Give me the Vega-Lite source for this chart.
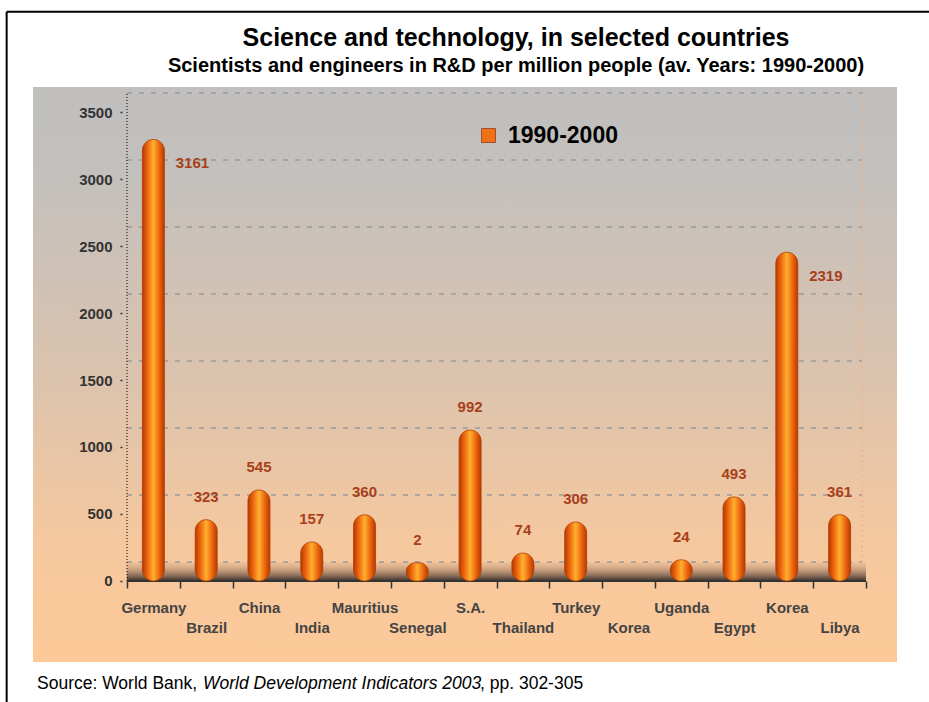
{
  "$schema": "https://vega.github.io/schema/vega-lite/v6.json",
  "width": 864,
  "height": 575,
  "autosize": {"type": "none"},
  "padding": {"left": 33, "top": 87, "right": 32, "bottom": 40},
  "background": "white",
  "title": {
    "text": "Science and technology, in selected countries",
    "subtitle": "Scientists and engineers in R&D per million people (av. Years: 1990-2000)",
    "anchor": "middle",
    "frame": "group",
    "dx": 51,
    "offset": -65,
    "font": "Liberation Sans",
    "fontSize": 25,
    "fontWeight": "bold",
    "color": "#000000",
    "subtitleFont": "Liberation Sans",
    "subtitleFontSize": 20,
    "subtitleFontWeight": "bold",
    "subtitleColor": "#000000",
    "subtitlePadding": 5
  },
  "data": {
    "values": [
      {"country": "Germany", "value": 3161, "series": "1990-2000"},
      {"country": "Brazil", "value": 323, "series": "1990-2000"},
      {"country": "China", "value": 545, "series": "1990-2000"},
      {"country": "India", "value": 157, "series": "1990-2000"},
      {"country": "Mauritius", "value": 360, "series": "1990-2000"},
      {"country": "Senegal", "value": 2, "series": "1990-2000"},
      {"country": "S.A.", "value": 992, "series": "1990-2000"},
      {"country": "Thailand", "value": 74, "series": "1990-2000"},
      {"country": "Turkey", "value": 306, "series": "1990-2000"},
      {"country": "Korea ", "value": null, "series": "1990-2000"},
      {"country": "Uganda", "value": 24, "series": "1990-2000"},
      {"country": "Egypt", "value": 493, "series": "1990-2000"},
      {"country": "Korea", "value": 2319, "series": "1990-2000"},
      {"country": "Libya", "value": 361, "series": "1990-2000"}
    ]
  },
  "layer": [
    {
      "data": {"values": [{"bg": 1}]},
      "mark": {
        "type": "rect",
        "color": {
          "gradient": "linear", "x1": 0, "x2": 0, "y1": 0, "y2": 1,
          "stops": [
            {"offset": 0, "color": "#c0bfbe"},
            {"offset": 0.15, "color": "#c3c0bd"},
            {"offset": 0.5, "color": "#dbc3ae"},
            {"offset": 0.8, "color": "#f6c89e"},
            {"offset": 1, "color": "#fdc998"}
          ]
        }
      },
      "encoding": {}
    },
    {
      "data": {"values": [{"f": 1}]},
      "mark": {
        "type": "rect",
        "color": {
          "gradient": "linear", "x1": 0, "x2": 0, "y1": 0, "y2": 1,
          "stops": [
            {"offset": 0, "color": "rgba(200,160,130,0.15)"},
            {"offset": 0.5, "color": "rgba(140,110,90,0.6)"},
            {"offset": 1, "color": "#3a302b"}
          ]
        }
      },
      "encoding": {
        "x": {"datum": "Germany", "bandPosition": 0, "type": "nominal"},
        "x2": {"datum": "Libya", "bandPosition": 1},
        "y": {"datum": 142, "type": "quantitative"},
        "y2": {"datum": 0}
      }
    },
    {
      "data": {"values": [{"g": 0}, {"g": 500}, {"g": 1000}, {"g": 1500}, {"g": 2000}, {"g": 2500}, {"g": 3000}, {"g": 3500}]},
      "mark": {"type": "rule", "color": "#9a9a9a", "strokeWidth": 1.5, "strokeDash": [5, 7], "yOffset": -19},
      "encoding": {
        "x": {"datum": "Germany", "bandPosition": 0, "type": "nominal"},
        "x2": {"datum": "Libya", "bandPosition": 0.93},
        "y": {"field": "g", "type": "quantitative"}
      }
    },
    {
      "data": {"values": [{"a": 1}]},
      "mark": {"type": "rule", "color": "#000000", "strokeWidth": 1, "strokeDash": [1, 2]},
      "encoding": {
        "x": {"datum": "Germany", "bandPosition": 0, "type": "nominal"},
        "y": {"datum": 0, "type": "quantitative"},
        "y2": {"datum": 3641}
      }
    },
    {
      "data": {"values": [{"a": 1}]},
      "mark": {"type": "rule", "color": "#f0b48a", "strokeWidth": 1.5, "strokeDash": [2, 3]},
      "encoding": {
        "x": {"datum": "Libya", "bandPosition": 0.93, "type": "nominal"},
        "y": {"datum": 142, "type": "quantitative"},
        "y2": {"datum": 3641}
      }
    },
    {
      "data": {"values": [{"a": 1}]},
      "mark": {"type": "rule", "color": "#333333", "strokeWidth": 2},
      "encoding": {
        "x": {"datum": "Germany", "bandPosition": 0, "type": "nominal"},
        "x2": {"datum": "Libya", "bandPosition": 1},
        "y": {"datum": 0, "type": "quantitative"}
      }
    },
    {
      "mark": {
        "type": "bar", "width": 22, "cornerRadius": 11, "yOffset": -18, "stroke": "#b03a00", "strokeWidth": 0.8,
        "fill": {
          "gradient": "linear", "x1": 0, "x2": 1, "y1": 0, "y2": 0,
          "stops": [
            {"offset": 0, "color": "#b83800"},
            {"offset": 0.25, "color": "#ee6a10"},
            {"offset": 0.5, "color": "#ffb030"},
            {"offset": 0.75, "color": "#ee6a10"},
            {"offset": 1, "color": "#b83800"}
          ]
        }
      },
      "encoding": {
        "x": {
          "field": "country",
          "type": "nominal",
          "sort": null,
          "scale": {
            "domain": ["Germany", "Brazil", "China", "India", "Mauritius", "Senegal", "S.A.", "Thailand", "Turkey", "Korea ", "Uganda", "Egypt", "Korea", "Libya"],
            "range": [94, 833],
            "paddingInner": 0,
            "paddingOuter": 0
          },
          "axis": {
            "orient": "bottom",
            "offset": -81,
            "zindex": 2,
            "title": null,
            "domain": false,
            "grid": false,
            "ticks": true,
            "tickBand": "extent",
            "tickSize": 7,
            "tickColor": "#333333",
            "tickWidth": 1.5,
            "labelAngle": 0,
            "labelAlign": "center",
            "labelFont": "Liberation Sans",
            "labelFontSize": 15,
            "labelFontWeight": "bold",
            "labelColor": "#444444",
            "labelBaseline": "top",
            "labelLineHeight": 20,
            "labelPadding": 12,
            "labelExpr": "indexof(['Brazil','India','Senegal','Thailand','Korea ','Egypt','Libya'], datum.value) >= 0 ? ['', trim(datum.label)] : trim(datum.label)"
          }
        },
        "y": {
          "field": "value",
          "type": "quantitative",
          "scale": {"domain": [-604.5, 3686.6], "nice": false, "zero": false},
          "axis": {
            "orient": "left",
            "offset": -94,
            "zindex": 2,
            "title": null,
            "domain": false,
            "grid": false,
            "format": "d",
            "values": [0, 500, 1000, 1500, 2000, 2500, 3000, 3500],
            "tickSize": 7,
            "tickColor": "#333333",
            "tickDash": [0, 5, 2],
            "tickWidth": 1.5,
            "labelFont": "Liberation Sans",
            "labelFontSize": 15,
            "labelFontWeight": "bold",
            "labelColor": "#333333",
            "labelPadding": 8
          }
        },
        "y2": {"datum": 0}
      }
    },
    {
      "mark": {"type": "point", "filled": true, "opacity": 0, "size": 0},
      "encoding": {
        "x": {"field": "country", "type": "nominal"},
        "y": {"datum": 0, "type": "quantitative"},
        "color": {
          "field": "series",
          "type": "nominal",
          "scale": {"range": ["#f07018"]},
          "legend": {
            "orient": "none",
            "legendX": 444,
            "legendY": 37,
            "title": null,
            "padding": 0,
            "symbolType": "square",
            "symbolSize": 196,
            "symbolOpacity": 1,
            "symbolStrokeColor": "#a05030",
            "symbolStrokeWidth": 1,
            "labelFont": "Liberation Sans",
            "labelFontSize": 23,
            "labelFontWeight": "bold",
            "labelColor": "#000000",
            "labelOffset": 8
          }
        }
      }
    },
    {
      "transform": [{"filter": "datum.value != null && datum.value < 2000"}],
      "mark": {"type": "text", "dy": -41, "font": "Liberation Sans", "fontSize": 15, "fontWeight": "bold", "color": "#a8401c", "baseline": "middle", "align": "center"},
      "encoding": {
        "x": {"field": "country", "type": "nominal"},
        "y": {"field": "value", "type": "quantitative"},
        "text": {"field": "value", "type": "quantitative"}
      }
    },
    {
      "transform": [{"filter": "datum.value != null && datum.value >= 2000"}],
      "mark": {"type": "text", "dx": 39, "dy": 6, "font": "Liberation Sans", "fontSize": 15, "fontWeight": "bold", "color": "#a8401c", "baseline": "middle", "align": "center"},
      "encoding": {
        "x": {"field": "country", "type": "nominal"},
        "y": {"field": "value", "type": "quantitative"},
        "text": {"field": "value", "type": "quantitative", "format": "d"}
      }
    },
    {
      "data": {"values": [{"a": 1}]},
      "mark": {"type": "text", "text": "Source: World Bank, ", "dx": -90, "align": "left", "baseline": "alphabetic", "font": "Liberation Sans", "fontSize": 17.5, "color": "#000000"},
      "encoding": {
        "x": {"datum": "Germany", "bandPosition": 0, "type": "nominal"},
        "y": {"datum": -806, "type": "quantitative"}
      }
    },
    {
      "data": {"values": [{"a": 1}]},
      "mark": {"type": "text", "text": "World Development Indicators 2003", "dx": 76, "align": "left", "baseline": "alphabetic", "font": "Liberation Sans", "fontSize": 17.5, "fontStyle": "italic", "color": "#000000"},
      "encoding": {
        "x": {"datum": "Germany", "bandPosition": 0, "type": "nominal"},
        "y": {"datum": -806, "type": "quantitative"}
      }
    },
    {
      "data": {"values": [{"a": 1}]},
      "mark": {"type": "text", "text": ", pp. 302-305", "dx": 353, "align": "left", "baseline": "alphabetic", "font": "Liberation Sans", "fontSize": 17.5, "color": "#000000"},
      "encoding": {
        "x": {"datum": "Germany", "bandPosition": 0, "type": "nominal"},
        "y": {"datum": -806, "type": "quantitative"}
      }
    },
    {
      "data": {"values": [{"a": 1}]},
      "mark": {"type": "rule", "color": "#000000", "strokeWidth": 2},
      "encoding": {
        "x": {"datum": "Germany", "bandPosition": -2.28, "type": "nominal"},
        "x2": {"datum": "Libya", "bandPosition": 3},
        "y": {"datum": 4248, "type": "quantitative"}
      }
    },
    {
      "data": {"values": [{"a": 1}]},
      "mark": {"type": "rule", "color": "#000000", "strokeWidth": 2},
      "encoding": {
        "x": {"datum": "Germany", "bandPosition": -2.28, "type": "nominal"},
        "y": {"datum": 4248, "type": "quantitative"},
        "y2": {"datum": -1000}
      }
    }
  ],
  "config": {
    "view": {"stroke": null},
    "font": "Liberation Sans"
  }
}
